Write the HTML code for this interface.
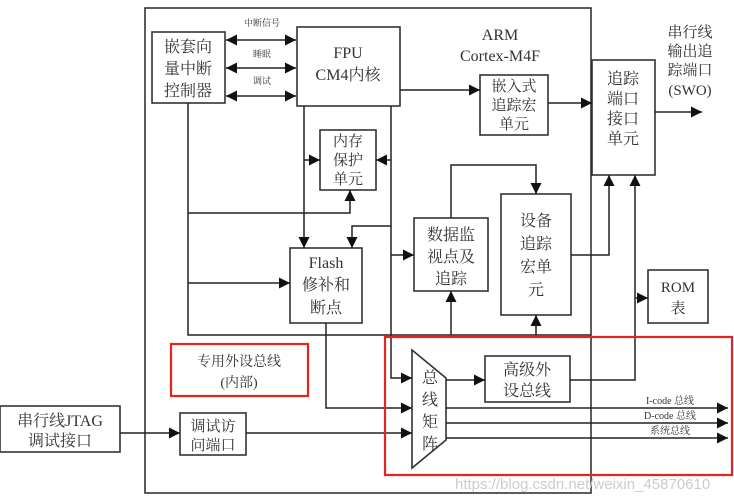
<!DOCTYPE html>
<html><head><meta charset="utf-8"><style>
body{margin:0;background:#fff}
svg{display:block}
text{font-family:"Liberation Serif","Noto Serif CJK SC",serif;fill:#333}
.c{text-anchor:middle}
</style></head><body>
<svg width="734" height="502" viewBox="0 0 734 502" xmlns="http://www.w3.org/2000/svg">
<defs>
<marker id="a" viewBox="0 0 10 10" refX="10" refY="5" markerWidth="11" markerHeight="11" markerUnits="userSpaceOnUse" orient="auto-start-reverse"><path d="M0,0L10,5L0,10z" fill="#111"/></marker>
</defs>
<g fill="none" stroke="#333" stroke-width="1.6">
<rect x="145" y="8" width="446" height="485"/>
<rect x="152" y="32" width="73" height="71"/>
<rect x="297" y="27" width="103" height="79"/>
<rect x="480" y="75" width="68" height="60"/>
<rect x="592" y="60" width="63" height="115"/>
<rect x="320" y="130" width="56" height="60"/>
<rect x="290" y="248" width="72" height="75"/>
<rect x="414" y="218" width="74" height="73"/>
<rect x="501" y="194" width="70" height="121"/>
<rect x="648" y="270" width="60" height="53"/>
<rect x="485" y="356" width="85" height="46"/>
<rect x="0" y="406" width="120" height="46"/>
<rect x="180" y="413" width="66" height="42"/>
<path d="M412,350 L446,378 L446,440 L412,468 Z"/>
</g>
<g fill="none" stroke="#222" stroke-width="1.5">
<path d="M226,40H296" marker-start="url(#a)" marker-end="url(#a)"/>
<path d="M226,68H296" marker-start="url(#a)" marker-end="url(#a)"/>
<path d="M226,96H296" marker-start="url(#a)" marker-end="url(#a)"/>
<path d="M400,90H480" marker-end="url(#a)"/>
<path d="M548,103H592" marker-end="url(#a)"/>
<path d="M655,112H702" marker-end="url(#a)"/>
<path d="M188,103V335H591"/>
<path d="M188,213H350V190" marker-end="url(#a)"/>
<path d="M188,283H290" marker-end="url(#a)"/>
<path d="M304,106V248" marker-end="url(#a)"/>
<path d="M304,160H320" marker-end="url(#a)"/>
<path d="M391,106V378H412" marker-end="url(#a)"/>
<path d="M391,160H376" marker-end="url(#a)"/>
<path d="M391,255H414" marker-end="url(#a)"/>
<path d="M391,226H352V248" marker-end="url(#a)"/>
<path d="M451,218V165H536V194" marker-end="url(#a)"/>
<path d="M451,335V291" marker-end="url(#a)"/>
<path d="M536,335V315" marker-end="url(#a)"/>
<path d="M571,255H609V175" marker-end="url(#a)"/>
<path d="M570,380H635V175" marker-end="url(#a)"/>
<path d="M635,298H648" marker-end="url(#a)"/>
<path d="M326,323V408H412" marker-end="url(#a)"/>
<path d="M246,433H412" marker-end="url(#a)"/>
<path d="M120,433H180" marker-end="url(#a)"/>
<path d="M446,380H485" marker-end="url(#a)"/>
<path d="M446,408H728" marker-end="url(#a)"/>
<path d="M446,423H728" marker-end="url(#a)"/>
<path d="M446,438H728" marker-end="url(#a)"/>
</g>
<g fill="none" stroke="#e8221f" stroke-width="2.2">
<rect x="171" y="344" width="137" height="52"/>
<rect x="385" y="337" width="347" height="138"/>
</g>
<g font-size="16">
<text x="188" y="52" class="c">嵌套向</text>
<text x="188" y="74" class="c">量中断</text>
<text x="188" y="96" class="c">控制器</text>
<text x="348" y="58" class="c">FPU</text>
<text x="348" y="80" class="c">CM4内核</text>
<text x="500" y="40" class="c">ARM</text>
<text x="500" y="61" class="c">Cortex-M4F</text>
<text x="514" y="91" class="c" font-size="15">嵌入式</text>
<text x="514" y="110" class="c" font-size="15">追踪宏</text>
<text x="514" y="129" class="c" font-size="15">单元</text>
<text x="623" y="84" class="c">追踪</text>
<text x="623" y="104" class="c">端口</text>
<text x="623" y="124" class="c">接口</text>
<text x="623" y="144" class="c">单元</text>
<text x="690" y="37" class="c" font-size="15">串行线</text>
<text x="690" y="56" class="c" font-size="15">输出追</text>
<text x="690" y="75" class="c" font-size="15">踪端口</text>
<text x="690" y="95" class="c" font-size="15">(SWO)</text>
<text x="348" y="146" class="c" font-size="15">内存</text>
<text x="348" y="165" class="c" font-size="15">保护</text>
<text x="348" y="184" class="c" font-size="15">单元</text>
<text x="326" y="268" class="c">Flash</text>
<text x="326" y="290" class="c">修补和</text>
<text x="326" y="313" class="c">断点</text>
<text x="451" y="240" class="c">数据监</text>
<text x="451" y="262" class="c">视点及</text>
<text x="451" y="284" class="c">追踪</text>
<text x="536" y="226" class="c">设备</text>
<text x="536" y="249" class="c">追踪</text>
<text x="536" y="272" class="c">宏单</text>
<text x="536" y="295" class="c">元</text>
<text x="678" y="292" class="c" font-size="15">ROM</text>
<text x="678" y="313" class="c" font-size="15">表</text>
<text x="239" y="366" class="c" font-size="14">专用外设总线</text>
<text x="239" y="387" class="c" font-size="14">(内部)</text>
<text x="430" y="383" class="c">总</text>
<text x="430" y="405" class="c">线</text>
<text x="430" y="427" class="c">矩</text>
<text x="430" y="449" class="c">阵</text>
<text x="527" y="375" class="c">高级外</text>
<text x="527" y="396" class="c">设总线</text>
<text x="60" y="426" class="c">串行线JTAG</text>
<text x="60" y="446" class="c">调试接口</text>
<text x="213" y="431" class="c" font-size="15">调试访</text>
<text x="213" y="450" class="c" font-size="15">问端口</text>
</g>
<g font-size="9" fill="#555">
<text x="262" y="26" class="c">中断信号</text>
<text x="262" y="57" class="c">睡眠</text>
<text x="262" y="84" class="c">调试</text>
<text x="670" y="404" class="c" font-size="10">I-code 总线</text>
<text x="670" y="419" class="c" font-size="10">D-code 总线</text>
<text x="670" y="434" class="c" font-size="10">系统总线</text>
</g>
<text x="455" y="489" font-size="15" style="fill:#ccc;font-family:'Liberation Sans',sans-serif">https://blog.csdn.net/weixin_45870610</text>
</svg>
</body></html>
